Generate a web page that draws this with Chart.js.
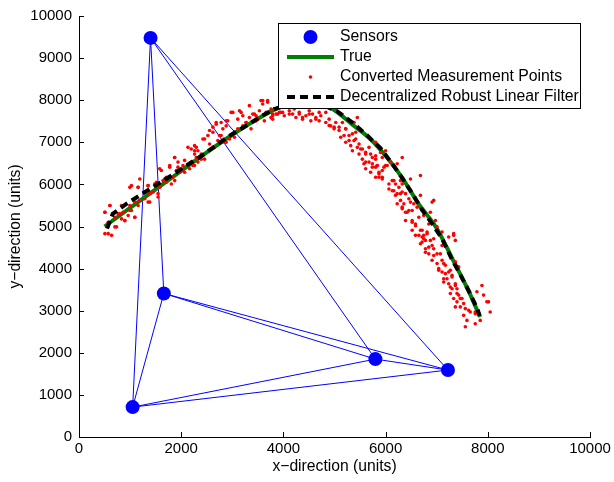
<!DOCTYPE html>
<html>
<head>
<meta charset="utf-8">
<script src="https://cdn.jsdelivr.net/npm/chart.js@4.4.1/dist/chart.umd.min.js"></script>
<style>
    html, body { margin: 0; padding: 0; background: #fff; }
    #wrap { width: 614px; height: 482px; }
</style>
</head>
<body>
<div id="wrap"><canvas id="trackChart" width="614" height="482"></canvas></div>
<script>
const sensorX = [1400, 1660, 1050, 5800, 7220];
const sensorY = [9480, 3410, 710, 1850, 1590];

const trueX = [500, 1000, 1500, 2000, 2500, 3000, 3500, 3850, 4400, 4950, 5350, 5700, 6000, 6300, 6650, 7000, 7300, 7600, 7850];
const trueY = [5000, 5440, 5880, 6320, 6760, 7180, 7560, 7790, 7980, 7800, 7420, 7080, 6680, 6200, 5530, 4960, 4250, 3530, 2850];

const filterX = [550, 660, 940, 1190, 1520, 1810, 2120, 2400, 2650, 2940, 3280, 3570, 3820, 4300, 4700, 5050, 5380, 5640, 5900, 6100, 6320, 6510, 6710, 6920, 7100, 7290, 7470, 7640, 7800, 7840];
const filterY = [4950, 5300, 5550, 5740, 5990, 6210, 6460, 6680, 6900, 7150, 7400, 7620, 7790, 7960, 7920, 7740, 7440, 7160, 6860, 6540, 6160, 5810, 5400, 5050, 4720, 4240, 3840, 3440, 3030, 2880];

const measPoints = [
    [605, 5500], [507, 5340], [572, 5100], [507, 4830], [637, 4790], [735, 4990], [832, 5180], [897, 5140],
    [767, 5300], [962, 5260], [1027, 5380], [1092, 5220], [995, 5500], [1157, 5500], [1190, 5620], [1287, 5660],
    [1352, 5580], [1385, 5780], [1352, 5970], [1482, 6010], [1580, 5930], [1645, 6090], [1710, 6050], [1807, 6010],
    [1612, 6330], [1775, 6450], [1872, 6640], [1937, 6530], [2035, 6450], [2067, 6290], [2165, 6370], [2262, 6720],
    [2392, 6600], [2262, 6450], [1970, 6290], [1840, 6170], [1710, 6170], [1157, 5930], [1027, 5970], [1547, 5780],
    [1450, 5820], [702, 5220], [865, 5340], [1287, 5820], [1905, 6330], [2067, 6570], [2327, 6800],
    [2197, 6840], [2295, 6640], [2327, 6530], [2457, 6600], [2425, 7080], [2522, 7160], [2620, 7240], [2555, 6960],
    [2717, 7040], [2782, 7160], [2815, 7320], [2880, 7390], [2912, 7510], [2782, 7470], [2685, 7470], [2847, 7000],
    [2945, 7080], [3010, 7200], [2977, 7710], [3140, 7750], [3205, 7630], [3107, 7550], [3270, 7470], [3335, 7590],
    [3400, 7670], [3465, 7630], [3530, 7750], [3595, 7910], [3692, 7990], [3562, 7990], [3660, 7710], [3757, 7790],
    [3790, 7630], [3887, 7670], [3952, 7710], [4017, 7630], [4115, 7750], [3790, 7550], [3465, 7510], [3205, 7390],
    [2262, 6920], [2230, 6450], [2392, 6720],
    [3985, 7710], [4115, 7670], [4212, 7790], [4310, 7670], [4375, 7550], [4440, 7630], [4505, 7750], [4570, 7670],
    [4635, 7590], [4537, 7510], [4732, 7630], [4830, 7710], [4895, 7550], [4927, 7390], [4992, 7320], [5090, 7360],
    [5155, 7470], [5220, 7320], [5285, 7160], [5187, 7160], [5122, 7120], [5220, 7000], [5317, 6920], [5382, 7040],
    [5447, 6880], [5350, 6800], [5480, 6720], [5545, 6600], [5610, 6720], [5577, 6490], [5675, 6530], [5740, 6410],
    [5707, 6290], [5805, 6600], [5837, 6450], [5870, 6170], [5935, 6330], [5610, 6370], [5512, 6840], [5415, 7240],
    [5025, 7470], [4245, 7590], [4700, 7510],
    [5707, 6720], [5805, 6680], [5935, 6640], [5902, 6760], [5740, 6490], [5837, 6450], [5967, 6410], [5870, 6290],
    [6032, 6450], [5935, 6130], [5805, 6170], [6162, 6090], [6195, 6010], [6260, 5930], [6325, 6010], [6130, 5850],
    [6065, 5890], [6227, 5780], [6325, 5820], [6390, 5780], [6455, 5660], [6292, 5620], [6357, 5540], [6487, 5580],
    [6552, 5540], [6325, 5420], [6422, 5340], [6520, 5380], [6617, 5460], [6682, 5740], [6650, 5220], [6747, 5260],
    [6877, 5340], [6910, 5580], [6942, 5620], [6845, 5060], [6975, 5140], [7007, 4990], [6715, 4910], [6585, 5060],
    [6520, 5100], [6812, 4830], [7105, 4870], [7332, 4790], [6942, 4710], [6747, 4710], [6325, 6640], [6487, 6130],
    [6682, 6210], [6097, 6530], [6227, 6490],
    [6650, 4790], [6747, 4790], [6715, 4630], [6812, 4870], [6877, 4670], [6910, 4550], [6780, 4470], [6845, 4350],
    [6942, 4310], [7072, 4350], [7105, 4550], [7235, 4750], [7332, 4830], [7365, 4670], [7007, 4120], [7040, 4000],
    [7105, 3920], [7170, 3880], [7267, 3960], [7300, 3840], [7202, 3760], [7137, 3680], [7235, 3640], [7365, 3600],
    [7300, 3520], [7267, 3410], [7397, 3520], [7430, 3370], [7332, 3290], [7397, 3210], [7495, 3290], [7462, 3090],
    [7560, 3050], [7365, 3090], [7527, 2890], [7592, 2770], [7657, 2970], [7755, 2970], [7787, 3450], [7885, 3600],
    [7917, 3370], [8015, 3210], [8047, 2970], [7755, 2690], [7852, 2770], [7560, 2620], [7430, 4040], [7365, 4160],
    [7137, 4120],
    [3790, 7670], [3920, 7710], [4180, 7670], [4310, 7710], [4375, 7590], [4505, 7670], [4635, 7550], [4700, 7710],
    [4830, 7470], [4895, 7400], [4993, 7360], [5090, 7280], [5220, 7320], [5350, 7200], [5285, 7040], [5415, 7080],
    [5480, 6960], [5545, 6840], [5675, 6880], [5610, 6760], [5740, 6640], [5610, 6530], [5805, 6410], [5870, 6250],
    [5935, 6170], [6000, 6450], [6065, 6010], [6130, 6090], [6162, 5850], [6195, 5740], [6292, 5780], [6227, 5540],
    [6325, 5460], [6390, 5340], [6455, 5380], [6520, 5140], [6585, 5020], [6682, 4910], [6715, 4750], [6780, 4670],
    [6845, 4510], [6942, 4470], [7007, 4350], [7105, 4200], [7170, 4080], [7235, 3920], [7300, 3800], [7365, 3640],
    [7397, 3410], [7462, 3290], [7527, 3170], [7625, 3010], [7982, 3210], [7755, 2930], [7267, 3560], [7137, 3760],
    [7040, 3960], [6910, 4200], [6780, 4390], [6682, 4590], [6585, 4790], [6520, 4910], [6390, 5140], [6292, 6090],
    [6000, 6800], [5805, 7000], [5447, 7590], [5382, 7470],
    [3595, 7990], [3692, 7950], [3335, 7870], [3172, 7710], [3010, 7710], [3497, 7550], [3627, 7510], [3757, 7590],
    [3855, 7670], [3367, 7320], [3107, 7320], [2880, 7510], [2685, 7430], [2555, 7280], [2750, 7160], [2880, 7000],
    [2652, 6880], [2457, 7080], [2295, 6880], [2132, 6880], [2360, 6640], [2197, 6530], [2035, 6330], [1872, 6640],
    [1775, 6410], [1580, 6370], [1677, 6130], [1872, 6090], [1515, 6050], [1352, 5970], [1157, 5930], [995, 5930],
    [1385, 5580], [1547, 5700], [1092, 5580], [832, 5500], [995, 5380], [800, 5300], [605, 5500], [507, 5340],
    [897, 5140], [1092, 5220], [572, 4830], [702, 4990], [1190, 6130], [1937, 6410], [2262, 6800], [2620, 7360],
    [3042, 7120], [3270, 7470], [3432, 7670], [3822, 7790]
];

const xTicks = [0, 2000, 4000, 6000, 8000, 10000];
const yTicks = [0, 1000, 2000, 3000, 4000, 5000, 6000, 7000, 8000, 9000, 10000];

const FONT = "'Liberation Sans', Arial, Helvetica, sans-serif";

// every pair of sensors is linked, gaps split the segments
const buildNetwork = () => {
    const pts = [];
    for (let i = 0; i < sensorX.length; i++) {
        for (let j = i + 1; j < sensorX.length; j++) {
            pts.push({ x: sensorX[i], y: sensorY[i] });
            pts.push({ x: sensorX[j], y: sensorY[j] });
            pts.push({ x: null, y: null });
        }
    }
    return pts;
};

const toPoints = (xs, ys) => xs.map((x, i) => ({ x, y: ys[i] }));

// MATLAB style ticks pointing into the axes
const innerTicks = {
    id: 'innerTicks',
    afterDraw(chart) {
        const { ctx, chartArea, scales } = chart;
        ctx.save();
        ctx.strokeStyle = '#000';
        ctx.lineWidth = 1;
        ctx.beginPath();
        xTicks.forEach(v => {
            const px = Math.round(scales.x.getPixelForValue(v)) + 0.5;
            ctx.moveTo(px, chartArea.bottom);
            ctx.lineTo(px, chartArea.bottom - 5);
        });
        yTicks.forEach(v => {
            const py = Math.round(scales.y.getPixelForValue(v)) + 0.5;
            ctx.moveTo(chartArea.left, py);
            ctx.lineTo(chartArea.left + 5, py);
        });
        ctx.stroke();
        ctx.restore();
    }
};

// boxed legend sitting over the data, top right
const boxLegend = {
    id: 'boxLegend',
    afterDraw(chart) {
        const ctx = chart.ctx;
        const x0 = 278, y0 = 23, w = 302, h = 85;
        const rows = [37, 57, 77, 97];
        const symL = 287, symR = 334, textX = 340;
        const ds = chart.data.datasets;
        const items = [ds[3], ds[2], ds[1], ds[0]];

        ctx.save();
        ctx.fillStyle = '#fff';
        ctx.fillRect(x0, y0, w, h);
        ctx.strokeStyle = '#000';
        ctx.lineWidth = 1;
        ctx.strokeRect(x0 + 0.5, y0 + 0.5, w, h);

        items.forEach((d, i) => {
            const y = rows[i];
            const mid = (symL + symR) / 2;
            if (d.showLine) {
                ctx.beginPath();
                ctx.setLineDash(d.borderDash || []);
                ctx.strokeStyle = d.borderColor;
                ctx.lineWidth = d.borderWidth;
                ctx.moveTo(symL, y);
                ctx.lineTo(symR, y);
                ctx.stroke();
                ctx.setLineDash([]);
            } else {
                ctx.beginPath();
                ctx.fillStyle = d.backgroundColor;
                ctx.arc(mid, y, d.pointRadius, 0, Math.PI * 2);
                ctx.fill();
            }
            ctx.fillStyle = '#000';
            ctx.font = `15.8px ${FONT}`;
            ctx.textBaseline = 'middle';
            ctx.textAlign = 'left';
            ctx.fillText(d.label, textX, y);
        });
        ctx.restore();
    }
};

new Chart(document.getElementById('trackChart'), {
    type: 'scatter',
    data: {
        datasets: [
            {
                label: 'Decentralized Robust Linear Filter',
                data: toPoints(filterX, filterY),
                showLine: true,
                borderColor: '#000',
                borderWidth: 4,
                borderDash: [8, 5],
                pointRadius: 0,
                order: 0
            },
            {
                label: 'Converted Measurement Points',
                data: measPoints.map(p => ({ x: p[0], y: p[1] })),
                showLine: false,
                backgroundColor: '#ff0000',
                borderWidth: 0,
                pointRadius: 1.8,
                order: 1
            },
            {
                label: 'True',
                data: toPoints(trueX, trueY),
                showLine: true,
                borderColor: '#008000',
                borderWidth: 4,
                pointRadius: 0,
                cubicInterpolationMode: 'monotone',
                order: 2
            },
            {
                label: 'Sensors',
                data: toPoints(sensorX, sensorY),
                showLine: false,
                backgroundColor: '#0000ff',
                borderWidth: 0,
                pointRadius: 7,
                order: 3
            },
            {
                label: 'links',
                data: buildNetwork(),
                showLine: true,
                spanGaps: false,
                borderColor: '#0000ff',
                borderWidth: 1,
                pointRadius: 0,
                order: 4
            }
        ]
    },
    options: {
        responsive: false,
        animation: false,
        events: [],
        layout: { padding: { left: 0, top: 15, right: 24, bottom: 0 } },
        plugins: {
            legend: { display: false },
            tooltip: { enabled: false }
        },
        scales: {
            x: {
                type: 'linear',
                min: 0,
                max: 10000,
                afterBuildTicks: (s) => { s.ticks = xTicks.map(v => ({ value: v })); },
                afterFit: (s) => { s.height = 45; },
                grid: { display: false, drawTicks: false },
                border: { display: true, color: '#000', width: 1 },
                ticks: {
                    color: '#000', padding: 3, maxRotation: 0,
                    font: { family: FONT, size: 15 },
                    callback: (v) => String(v)
                },
                title: {
                    display: true,
                    text: 'x\u2212direction (units)',
                    color: '#000',
                    padding: { top: 0, bottom: 6 },
                    font: { family: FONT, size: 15.7 }
                }
            },
            y: {
                type: 'linear',
                min: 0,
                max: 10000,
                afterBuildTicks: (s) => { s.ticks = yTicks.map(v => ({ value: v })); },
                afterFit: (s) => { s.width = 79; },
                grid: { display: false, drawTicks: false },
                border: { display: true, color: '#000', width: 1 },
                ticks: {
                    color: '#000', padding: 7,
                    font: { family: FONT, size: 15 },
                    callback: (v) => String(v)
                },
                title: {
                    display: true,
                    text: 'y\u2212direction (units)',
                    color: '#000',
                    padding: { top: 6, bottom: 0 },
                    font: { family: FONT, size: 15.7 }
                }
            }
        }
    },
    plugins: [innerTicks, boxLegend]
});
</script>
</body>
</html>
